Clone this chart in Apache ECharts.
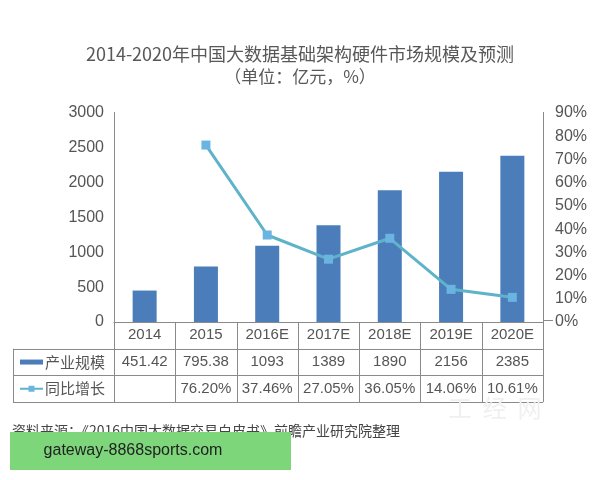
<!DOCTYPE html>
<html><head><meta charset="utf-8">
<script src="https://cdn.jsdelivr.net/npm/echarts@6/dist/echarts.min.js"></script>
<style>html,body{margin:0;padding:0;background:#fff}#c{width:600px;height:480px}</style>
</head><body><div id="c"></div>
<script>
var categories = ['2014','2015','2016E','2017E','2018E','2019E','2020E'];
var scaleValues = [451.42, 795.38, 1093, 1389, 1890, 2156, 2385];
var scaleLabels = ['451.42','795.38','1093','1389','1890','2156','2385'];
var growthValues = [null, 76.20, 37.46, 27.05, 36.05, 14.06, 10.61];
var growthLabels = ['', '76.20%', '37.46%', '27.05%', '36.05%', '14.06%', '10.61%'];
var leftTicks = [0, 3000, 500];
var rightTicks = [0, 90, 10];
var seriesNames = ['产业规模', '同比增长'];

var FONT = '"Liberation Sans", Arial, sans-serif';
var G = {left: 114, right: 57, top: 113, bottom: 158};
var W = 600, H = 480;
var x0 = G.left, x1 = W - G.right, yb = H - G.bottom;
var rowH = 26.7;
var tableLeft = 13;
var barColor = '#4a7dba', lineColor = '#5fb3c9', markColor = '#6ab4e2', gridColor = '#8a8a8a';

var chart = echarts.init(document.getElementById('c'), null, {renderer: 'canvas'});
var n = categories.length, band = (x1 - x0) / n;
var gr = [];
var lineStyle = {stroke: gridColor, lineWidth: 1};
[1, 2, 3].forEach(function (k) {
  var y = Math.round(yb + rowH * k) + 0.5;
  gr.push({type: 'line', shape: {x1: tableLeft, y1: y, x2: x1, y2: y}, style: lineStyle, silent: true});
});
gr.push({type: 'line', shape: {x1: tableLeft + 0.5, y1: yb + rowH, x2: tableLeft + 0.5, y2: yb + rowH * 3}, style: lineStyle});
for (var i = 0; i <= n; i++) {
  var x = Math.round(x0 + band * i) + 0.5;
  gr.push({type: 'line', shape: {x1: x, y1: (i === 0 || i === n) ? G.top - 1 : yb, x2: x, y2: yb + rowH * 3}, style: lineStyle});
}
gr.push({type: 'rect', shape: {x: 20, y: yb + rowH * 1.5 - 2.5, width: 23, height: 5}, style: {fill: barColor}});
gr.push({type: 'line', shape: {x1: 20, y1: yb + rowH * 2.5, x2: 43, y2: yb + rowH * 2.5}, style: {stroke: lineColor, lineWidth: 2}});
gr.push({type: 'rect', shape: {x: 28.5, y: yb + rowH * 2.5 - 3, width: 6, height: 6}, style: {fill: markColor}});
gr.push({type: 'text', x: 45, y: yb + rowH * 1.5, style: {text: seriesNames[0], font: '15px "Noto Sans CJK SC"', fill: '#555', textVerticalAlign: 'middle'}});
gr.push({type: 'text', x: 45, y: yb + rowH * 2.5, style: {text: seriesNames[1], font: '15px "Noto Sans CJK SC"', fill: '#555', textVerticalAlign: 'middle'}});
gr.push({type: 'line', shape: {x1: x1, y1: yb - 1.5, x2: x1 + 10, y2: yb - 1.5}, style: lineStyle});
gr.push({type: 'text', x: 448, y: 396, style: {text: '工  经  网', font: '24px "Noto Sans CJK SC"', fill: '#f0f0f0'}});
gr.push({type: 'text', x: 12, y: 424, style: {text: '资料来源：《2016中国大数据交易白皮书》前瞻产业研究院整理', font: '14px "Noto Sans CJK SC"', fill: '#444'}});
gr.push({type: 'rect', shape: {x: 10, y: 432, width: 281, height: 38}, style: {fill: '#7dd67a'}});
gr.push({type: 'text', x: 133, y: 451, style: {text: 'gateway-8868sports.com', font: '16px "Liberation Sans", Arial, sans-serif', fill: '#222', textAlign: 'center', textVerticalAlign: 'middle'}});

chart.setOption({
  animation: false,
  backgroundColor: '#fff',
  title: {
    text: '2014-2020年中国大数据基础架构硬件市场规模及预测',
    subtext: '（单位：亿元，%）',
    left: 'center', top: 40, itemGap: 5,
    textStyle: {fontSize: 18, fontWeight: 'normal', color: '#585858', fontFamily: '"Noto Sans CJK SC"'},
    subtextStyle: {fontSize: 17, color: '#585858', fontFamily: '"Noto Sans CJK SC"'}
  },
  grid: G,
  xAxis: {
    type: 'category', data: categories,
    axisLine: {lineStyle: {color: gridColor}},
    axisTick: {show: false},
    axisLabel: {
      interval: 0, margin: 0, fontFamily: FONT,
      formatter: function (v, idx) {
        return '{a|' + v + '}\n{b|' + scaleLabels[idx] + '}\n{c|' + (growthLabels[idx] || ' ') + '}';
      },
      rich: {
        a: {fontSize: 15, color: '#555', lineHeight: rowH, fontFamily: FONT},
        b: {fontSize: 15, color: '#555', lineHeight: rowH, fontFamily: FONT},
        c: {fontSize: 15, color: '#555', lineHeight: rowH, fontFamily: FONT}
      }
    }
  },
  yAxis: [{
    type: 'value', min: leftTicks[0], max: leftTicks[1], interval: leftTicks[2],
    axisLine: {show: true, lineStyle: {color: gridColor}},
    axisTick: {show: false}, splitLine: {show: false},
    axisLabel: {fontSize: 16, color: '#555', fontFamily: FONT, margin: 10, formatter: function (v) { return String(v); }}
  }, {
    type: 'value', min: rightTicks[0], max: rightTicks[1], interval: rightTicks[2],
    axisLine: {show: true, lineStyle: {color: gridColor}},
    axisTick: {show: false}, splitLine: {show: false},
    axisLabel: {fontSize: 16, color: '#555', fontFamily: FONT, margin: 12, formatter: function (v) { return v + '%'; }}
  }],
  series: [{
    name: seriesNames[0], type: 'bar', data: scaleValues, barWidth: 24,
    itemStyle: {color: barColor}
  }, {
    name: seriesNames[1], type: 'line', yAxisIndex: 1, data: growthValues,
    symbol: 'rect', symbolSize: 9, connectNulls: false,
    lineStyle: {color: lineColor, width: 3},
    itemStyle: {color: markColor}
  }],
  graphic: gr
});
</script></body></html>
